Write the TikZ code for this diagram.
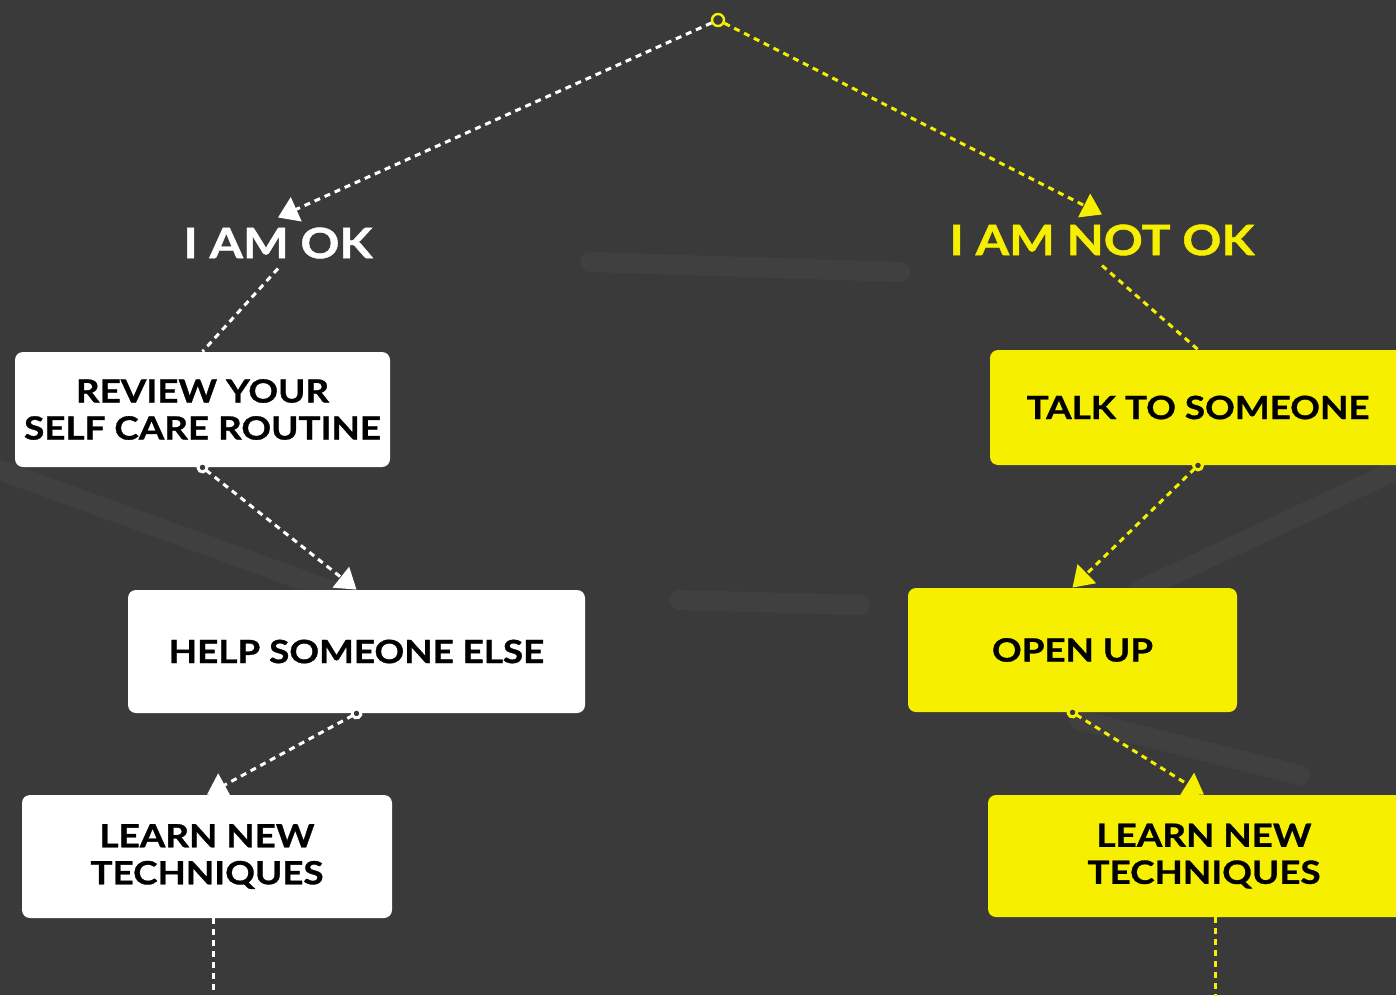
\documentclass[tikz,border=0pt]{standalone}
\usepackage{fontspec}
\setmainfont{Lato}
\newfontfamily\signfont{Lato Bold}[FakeStretch=1.15, FakeBold=1]
\usetikzlibrary{arrows.meta,positioning}
\definecolor{bgdark}{RGB}{58,58,58}
\definecolor{signyellow}{RGB}{246,240,0}

\begin{document}
\begin{tikzpicture}[x=0.5pt, y=-0.5pt,
    okbox/.style={fill=white, rounded corners=4pt, inner sep=0pt, align=center,
      font=\signfont\fontsize{16}{18.5}\selectfont},
    notbox/.style={okbox, fill=signyellow},
    head/.style={inner sep=0pt, outer sep=5pt, font=\signfont\fontsize{21}{24}\selectfont},
    trail/.style={line width=1.5pt, dash pattern=on 3pt off 2.5pt},
    link/.style={trail, shorten <=-3pt, {Circle[open, length=6pt, width=6pt, fill=bgdark]}-{Triangle[length=10pt, width=13pt]}},
    firstlink/.style={trail, -{Triangle[length=10pt, width=13pt]}}]
    \useasboundingbox (0,0) rectangle (1396,995);
    \clip (0,0) rectangle (1396,995);
    \fill[bgdark] (0,0) rectangle (1396,995);

    % faint streaks in the background
    \draw[white, opacity=0.03, line width=10pt, line cap=round] (590,262) -- (900,272);
    \draw[white, opacity=0.03, line width=10pt, line cap=round] (0,470) -- (330,590);
    \draw[white, opacity=0.03, line width=10pt, line cap=round] (1140,590) -- (1396,470);
    \draw[white, opacity=0.03, line width=10pt, line cap=round] (680,600) -- (860,605);
    \draw[white, opacity=0.03, line width=10pt, line cap=round] (1080,720) -- (1300,775);

    % start point
    \node[circle, draw=signyellow, fill=bgdark, line width=1.2pt, minimum size=6pt, inner sep=0pt] (root) at (718,20) {};

    % heads
    \node[head, white] (okhead) at (278,243) {I AM OK};
    \node[head, signyellow] (nothead) at (1102,240) {I AM NOT OK};

    % left column
    \node[okbox, minimum width=187.5pt, minimum height=57.5pt] (review) at (202.5,409.5) {REVIEW YOUR\\SELF CARE ROUTINE};
    \node[okbox, minimum width=228.5pt, minimum height=61.5pt] (help) at (356.5,651.5) {HELP SOMEONE ELSE};
    \node[okbox, minimum width=185pt, minimum height=61.5pt] (learnok) at (207,856.5) {LEARN NEW\\TECHNIQUES};
    \coordinate (okend) at (213,1010);

    % right column
    \node[notbox, minimum width=208pt, minimum height=57.5pt] (talk) at (1198,407.5) {TALK TO SOMEONE};
    \node[notbox, minimum width=164.5pt, minimum height=62pt] (open) at (1072.5,650) {OPEN UP};
    \node[notbox, minimum width=216pt, minimum height=61pt] (learnnot) at (1204,856) {LEARN NEW\\TECHNIQUES};
    \coordinate (notend) at (1215,1010);

    % connectors
    \draw[firstlink, white] (root) -- (okhead.north);
    \draw[firstlink, signyellow] (root) -- (nothead.north);
    \draw[trail, white] (okhead.south) -- (review.north);
    \draw[link, white] (review.south) -- (help.north);
    \draw[link, white] (help.south) -- (learnok.north);
    \draw[trail, white] (learnok.south -| okend) -- (okend);
    \draw[trail, signyellow] (nothead.south) -- (talk.north);
    \draw[link, signyellow] (talk.south) -- (open.north);
    \draw[link, signyellow] (open.south) -- (learnnot.north);
    \draw[trail, signyellow] (learnnot.south -| notend) -- (notend);
\end{tikzpicture}
\end{document}
